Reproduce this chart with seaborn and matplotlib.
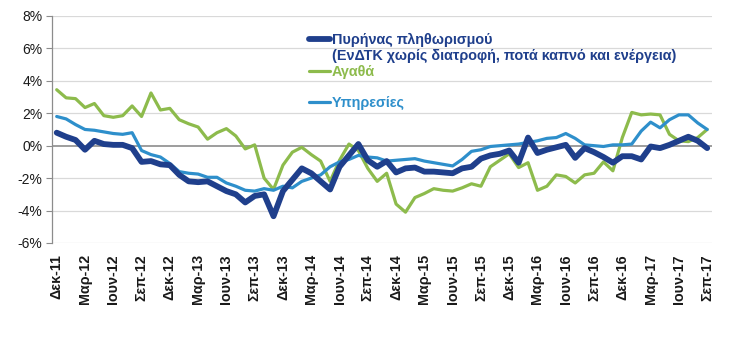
import numpy as np
import pandas as pd
import matplotlib
matplotlib.use("Agg")
import matplotlib.pyplot as plt
import seaborn as sns
from matplotlib.lines import Line2D

# ---- data ----
months_gr = ["Ιαν", "Φεβ", "Μαρ", "Απρ", "Μαϊ", "Ιουν", "Ιουλ", "Αυγ", "Σεπ", "Οκτ", "Νοε", "Δεκ"]
start_year, start_month = 2011, 12
n_points = 70

core = [0.8, 0.55, 0.35, -0.25, 0.3, 0.1, 0.05, 0.05, -0.15, -1.0,
        -0.95, -1.15, -1.2, -1.8, -2.2, -2.25, -2.2, -2.5, -2.8, -3.0,
        -3.5, -3.1, -3.0, -4.35, -2.8, -2.1, -1.4, -1.7, -2.2, -2.7,
        -1.3, -0.6, 0.1, -0.9, -1.3, -0.95, -1.65, -1.4, -1.35, -1.6,
        -1.6, -1.65, -1.7, -1.4, -1.3, -0.8, -0.6, -0.5, -0.3, -1.05,
        0.5, -0.45, -0.25, -0.1, 0.05, -0.75, -0.15, -0.4, -0.7, -1.05,
        -0.65, -0.65, -0.85, -0.05, -0.15, 0.05, 0.3, 0.55, 0.3, -0.15]

goods = [3.45, 2.95, 2.9, 2.35, 2.6, 1.85, 1.75, 1.85, 2.45, 1.8,
         3.25, 2.2, 2.3, 1.6, 1.35, 1.15, 0.4, 0.8, 1.05, 0.6,
         -0.2, 0.05, -2.0, -2.7, -1.2, -0.4, -0.1, -0.55, -0.95, -2.2,
         -0.9, 0.1, -0.3, -1.4, -2.2, -1.7, -3.6, -4.1, -3.2, -2.95,
         -2.65, -2.75, -2.8, -2.6, -2.35, -2.5, -1.3, -0.9, -0.5, -1.35,
         -1.05, -2.75, -2.5, -1.8, -1.9, -2.3, -1.8, -1.7, -1.0, -1.55,
         0.5, 2.05, 1.9, 1.95, 1.9, 0.7, 0.3, 0.25, 0.5, 1.0]

services = [1.8, 1.65, 1.3, 1.0, 0.95, 0.85, 0.75, 0.7, 0.8, -0.3,
            -0.55, -0.7, -1.1, -1.6, -1.7, -1.75, -1.95, -1.95, -2.3, -2.5,
            -2.75, -2.8, -2.65, -2.75, -2.5, -2.6, -2.2, -2.0, -1.8, -1.3,
            -1.0, -0.85, -0.6, -0.7, -0.75, -0.95, -0.9, -0.85, -0.8, -0.95,
            -1.05, -1.15, -1.25, -0.85, -0.35, -0.25, -0.05, 0.0, 0.05, 0.1,
            0.2, 0.3, 0.45, 0.5, 0.75, 0.45, 0.05, 0.0, -0.05, 0.05,
            0.05, 0.1, 0.9, 1.45, 1.1, 1.6, 1.9, 1.9, 1.4, 1.0]

label_core = "Πυρήνας πληθωρισμού"
label_core2 = "(ΕνΔΤΚ χωρίς διατροφή, ποτά καπνό και ενέργεια)"
label_goods = "Αγαθά"
label_services = "Υπηρεσίες"

y_ticks = [-6, -4, -2, 0, 2, 4, 6, 8]

# month labels
labels = []
y, m = start_year, start_month
for i in range(n_points):
    labels.append(f"{months_gr[m-1]}-{str(y)[-2:]}")
    m += 1
    if m > 12:
        m = 1
        y += 1

c_core = "#1F3F8C"
c_goods = "#8DBB4C"
c_serv = "#2E8FCB"

df = pd.DataFrame({
    "idx": list(range(n_points)) * 3,
    "value": core + goods + services,
    "series": [label_core] * n_points + [label_goods] * n_points + [label_services] * n_points,
})

sns.set_style("white")
plt.rcParams["font.family"] = ["Liberation Sans", "DejaVu Sans"]

fig = plt.figure(figsize=(7.47, 3.54), dpi=100)
ax = fig.add_axes([0.0696, 0.3136, 0.8834, 0.6414])

# gridlines
for t in y_ticks:
    if t != 0:
        ax.axhline(t, color="#D9D9D9", lw=0.9, zorder=0)
ax.axhline(0, color="#8C8C8C", lw=1.2, zorder=1)

sns.lineplot(data=df[df.series == label_goods], x="idx", y="value", color=c_goods, lw=2.3, ax=ax, zorder=3)
sns.lineplot(data=df[df.series == label_services], x="idx", y="value", color=c_serv, lw=2.3, ax=ax, zorder=4)
sns.lineplot(data=df[df.series == label_core], x="idx", y="value", color=c_core, lw=4.2, ax=ax, zorder=5)

ax.set_xlim(-0.5, n_points - 0.5)
ax.set_ylim(-6, 8)
ax.set_yticks(y_ticks)
ax.set_yticklabels([f"{t}%" for t in y_ticks], fontsize=10, color="#1a1a1a")
tick_pos = list(range(0, n_points, 3))
ax.set_xticks(tick_pos)
ax.set_xticklabels([labels[i] for i in tick_pos], rotation=90, fontsize=10.3,
                   fontweight="bold", color="#1a1a1a")
ax.tick_params(axis="x", length=0, pad=8)
ax.tick_params(axis="y", length=4, width=0.8, color="#8C8C8C", pad=3, left=True)
ax.set_xlabel("")
ax.set_ylabel("")
for s in ["top", "right", "bottom"]:
    ax.spines[s].set_visible(False)
ax.spines["left"].set_color("#8C8C8C")
ax.spines["left"].set_linewidth(0.9)

handles = [
    Line2D([], [], color=c_core, lw=4.2, solid_capstyle="round"),
    Line2D([], [], color="none"),
    Line2D([], [], color=c_goods, lw=2.3),
    Line2D([], [], color="none"),
    Line2D([], [], color=c_serv, lw=2.3),
]
leg_labels = [label_core, label_core2, label_goods, " ", label_services]
leg = ax.legend(handles, leg_labels, loc="upper left", bbox_to_anchor=(0.38, 0.95),
                frameon=False, handlelength=1.5, handletextpad=0.1,
                labelspacing=0.12, borderaxespad=0,
                prop={"size": 10.4, "weight": "bold"})
for txt, col in zip(leg.get_texts(), [c_core, c_core, c_goods, c_serv, c_serv]):
    txt.set_color(col)

fig.savefig("out.png", dpi=100)
